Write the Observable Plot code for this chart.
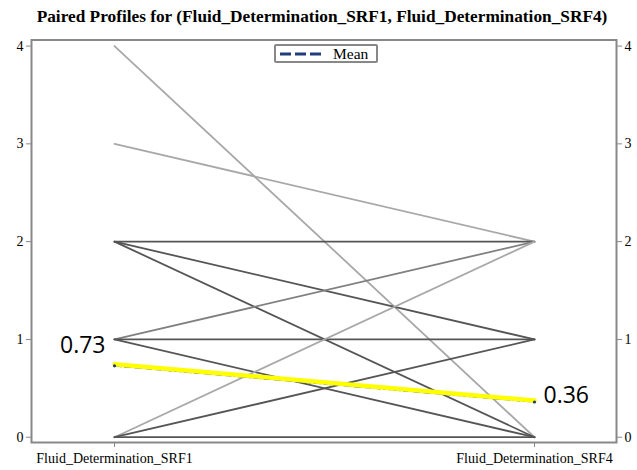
<!DOCTYPE html>
<html><head><meta charset="utf-8">
<script src="https://cdn.jsdelivr.net/npm/d3@7"></script>
<script src="https://cdn.jsdelivr.net/npm/@observablehq/plot@0.6"></script>
<style>
body{margin:0;background:#fff;}
#wrap{position:relative;width:637px;height:470px;overflow:hidden;}
#title{position:absolute;top:0;left:0;width:644px;text-align:center;font-weight:bold;font-size:17.3px;font-family:'Liberation Serif';line-height:34px;color:#000;}
#legend{position:absolute;left:274px;top:44px;width:100px;height:15px;border:2px solid #888;border-radius:2px;background:#fff;display:flex;align-items:center;font-size:15.5px;font-family:'Liberation Serif';}
#legend svg{margin-left:3px;margin-right:6px;}
</style></head>
<body><div id="wrap"><div id="title">Paired Profiles for (Fluid_Determination_SRF1, Fluid_Determination_SRF4)</div></div>
<script>
const categories = ["Fluid_Determination_SRF1", "Fluid_Determination_SRF4"];
const pre  = [4, 3, 2, 2, 2, 1, 1, 1, 0, 0, 0];
const post = [0, 2, 2, 1, 0, 2, 1, 0, 2, 1, 0];
const counts = [1, 1, 3, 3, 3, 2, 3, 3, 1, 3, 3];
const means = [0.73, 0.36];
const meanLabels = ["0.73", "0.36"];
const yTicks = [0, 1, 2, 3, 4];
const legendLabel = "Mean";

const serif = "Liberation Serif";
const rows = pre.flatMap((p, i) => [
  {id: i, x: categories[0], y: p, n: counts[i]},
  {id: i, x: categories[1], y: post[i], n: counts[i]}
]);
const meanRows = categories.map((c, i) => ({x: c, y: means[i], label: meanLabels[i]}));
const shade = n => n >= 3 ? "#555" : n === 2 ? "#808080" : "#a8a8a8";

const chart = Plot.plot({
  width: 637, height: 470,
  marginLeft: 31, marginRight: 21, marginTop: 39.5, marginBottom: 28,
  x: {type: "point", domain: categories, padding: 0.195},
  y: {domain: [-0.054, 4.062]},
  color: {type: "identity"},
  style: {fontFamily: serif, fontSize: "14px", background: "white", color: "#000"},
  marks: [
    Plot.line(rows, {x: "x", y: "y", z: "id", stroke: d => shade(d.n), strokeWidth: 1.8}),
    Plot.line(meanRows, {x: "x", y: "y", stroke: "#1f3d7a", strokeWidth: 1.4, strokeDasharray: "7,3"}),
    Plot.line(meanRows, {x: "x", y: "y", stroke: "#ffff00", strokeWidth: 4.5, dy: -1.5}),
    Plot.dot(meanRows, {x: "x", y: "y", r: 1.6, fill: "#1f3d7a"}),
    Plot.text(meanRows, {filter: (d, i) => i === 0, x: "x", y: "y", text: "label", textAnchor: "end", dx: -9, dy: -20, fontFamily: "Open Sans", fontSize: 23, fill: "#000"}),
    Plot.text(meanRows, {filter: (d, i) => i === 1, x: "x", y: "y", text: "label", textAnchor: "start", dx: 9, dy: -6, fontFamily: "Open Sans", fontSize: 23, fill: "#000"}),
    Plot.axisY({anchor: "left", ticks: yTicks, tickFormat: "d", tickSize: 5, tickPadding: 3, label: null, stroke: "#888", fill: "#000", fontFamily: serif, fontSize: 14}),
    Plot.axisY({anchor: "right", ticks: yTicks, tickFormat: "d", tickSize: 5, tickPadding: 3, label: null, stroke: "#888", fill: "#000", fontFamily: serif, fontSize: 14}),
    Plot.axisX({ticks: categories, tickSize: 5, tickPadding: 6, label: null, stroke: "#888", fill: "#000", fontFamily: serif, fontSize: 14}),
    Plot.frame({stroke: "#888", strokeWidth: 2})
  ]
});
const wrap = document.getElementById("wrap");
wrap.insertBefore(chart, wrap.firstChild);
chart.style.position = "absolute"; chart.style.left = "0"; chart.style.top = "0";

const leg = document.createElement("div");
leg.id = "legend";
leg.innerHTML = `<svg width="48" height="8"><line x1="1" y1="4" x2="46" y2="4" stroke="#1f3d7a" stroke-width="3" stroke-dasharray="11,4"/></svg><span>${legendLabel}</span>`;
wrap.appendChild(leg);
</script></body></html>
